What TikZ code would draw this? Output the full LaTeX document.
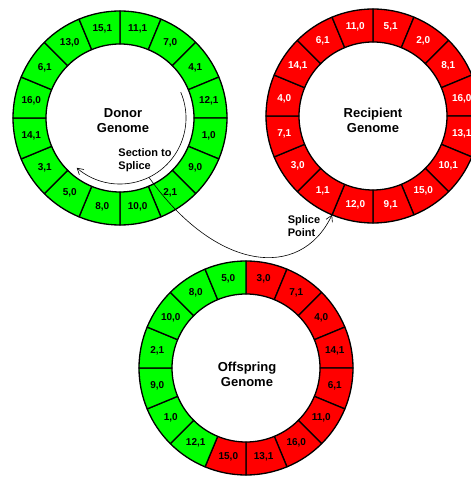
\documentclass[tikz,border=0pt]{standalone}
\usepackage{fontspec}
\setmainfont{Liberation Sans}
\usetikzlibrary{positioning,calc,arrows.meta}

\begin{document}
\begin{tikzpicture}[
    x=1pt, y=1pt,
    seg/.style={draw=black, line width=1.3pt, line join=round},
    gene/.style={font=\bfseries\fontsize{10}{10}\selectfont, inner sep=0pt},
    title/.style={font=\bfseries\fontsize{13}{15}\selectfont, align=center},
    note/.style={font=\bfseries\fontsize{11}{13}\selectfont, align=left, inner sep=0pt},
    link/.style={-{Straight Barb[length=6pt,width=7pt]}, line width=0.6pt}
]
\clip (0,0) rectangle (471,477);
\fill[white] (0,0) rectangle (471,477);

\coordinate (donor) at (120,359);
\coordinate (recip) at (373,361);
\coordinate (child) at (246,109);

% Donor genome (green ring, clockwise from top)
\foreach \a/\b [count=\i from 0] in {11/1,7/0,4/1,12/1,1/0,9/0,2/1,10/0,8/0,5/0,3/1,14/1,16/0,6/1,13/0,15/1} {
    \pgfmathsetmacro\s{90-22.5*\i}
    \pgfmathsetmacro\e{\s-22.5}
    \pgfmathsetmacro\m{\s-11.25}
    \draw[seg, fill=green] ($(donor)+(\s:107)$) arc[start angle=\s, end angle=\e, radius=107]
        -- ($(donor)+(\e:74)$) arc[start angle=\e, end angle=\s, radius=74] -- cycle;
    \node[gene] (d-\i) at ($(donor)+(\m:90.5)$) {\a,\b};
}

% Recipient genome (red ring)
\foreach \a/\b [count=\i from 0] in {5/1,2/0,8/1,16/0,13/1,10/1,15/0,9/1,12/0,1/1,3/0,7/1,4/0,14/1,6/1,11/0} {
    \pgfmathsetmacro\s{90-22.5*\i}
    \pgfmathsetmacro\e{\s-22.5}
    \pgfmathsetmacro\m{\s-11.25}
    \draw[seg, fill=red] ($(recip)+(\s:107)$) arc[start angle=\s, end angle=\e, radius=107]
        -- ($(recip)+(\e:74)$) arc[start angle=\e, end angle=\s, radius=74] -- cycle;
    \node[gene, text=white] (r-\i) at ($(recip)+(\m:90.5)$) {\a,\b};
}

% Offspring genome (red part from recipient, green part from donor)
\foreach \a/\b/\col [count=\i from 0] in {3/0/red,7/1/red,4/0/red,14/1/red,6/1/red,11/0/red,16/0/red,13/1/red,15/0/red,
                                          12/1/green,1/0/green,9/0/green,2/1/green,10/0/green,8/0/green,5/0/green} {
    \pgfmathsetmacro\s{90-22.5*\i}
    \pgfmathsetmacro\e{\s-22.5}
    \pgfmathsetmacro\m{\s-11.25}
    \draw[seg, fill=\col] ($(child)+(\s:107)$) arc[start angle=\s, end angle=\e, radius=107]
        -- ($(child)+(\e:74)$) arc[start angle=\e, end angle=\s, radius=74] -- cycle;
    \node[gene] (o-\i) at ($(child)+(\m:90.5)$) {\a,\b};
}

% Names in the middle of the rings
\node[title] (donor-name) at ($(donor)+(3,-3)$) {Donor\\Genome};
\node[title] (recip-name) at ($(recip)+(0,-4)$) {Recipient\\Genome};
\node[title] (child-name) at ($(child)+(1,-6)$) {Offspring\\Genome};

% Section to splice
\draw[link] ($(donor)+(23:66)$) arc[start angle=23, end angle=-131, radius=66];
\node[note] (section) at (145,317) {Section to\\Splice};

% Splice point on the recipient
\coordinate (cut) at ($(donor)+(-64:66)$);
\coordinate (splice) at ($(recip)+(-112.5:107)$);
\draw[link] (cut) .. controls +(66,-93) and +(-32,-67) .. (splice);
\node[note] (splice-name) at (304,251) {Splice\\Point};

\end{tikzpicture}
\end{document}
